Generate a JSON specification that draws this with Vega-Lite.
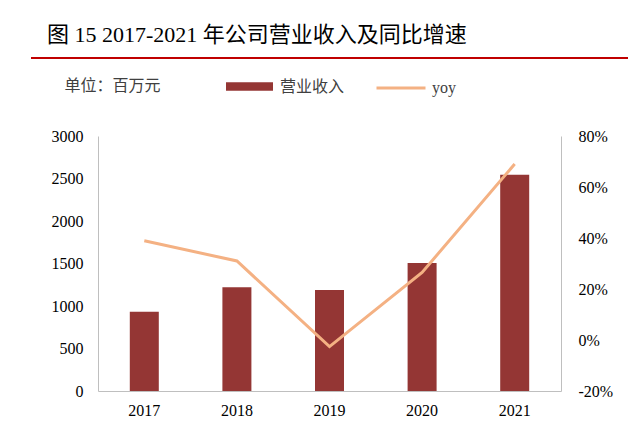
{
  "$schema": "https://vega.github.io/schema/vega-lite/v6.json",
  "background": "white",
  "padding": {"left": 31, "top": 23, "right": 0, "bottom": 0},
  "bounds": "flush",
  "center": true,
  "spacing": 77,
  "resolve": {"legend": {"color": "independent", "stroke": "independent"}},
  "config": {
    "view": {"stroke": null},
    "font": "Liberation Serif"
  },
  "datasets": {
    "revenue": [
      {"year": "2017", "revenue": 933, "yoy": 0.389},
      {"year": "2018", "revenue": 1220, "yoy": 0.31},
      {"year": "2019", "revenue": 1188, "yoy": -0.026},
      {"year": "2020", "revenue": 1506, "yoy": 0.265},
      {"year": "2021", "revenue": 2545, "yoy": 0.69}
    ]
  },
  "vconcat": [
    {
      "width": 595,
      "height": 0.01,
      "view": {"stroke": "#C00000", "strokeWidth": 2},
      "title": {
        "text": "图 15 2017-2021 年公司营业收入及同比增速",
        "anchor": "start",
        "frame": "group",
        "dx": 15,
        "offset": -6,
        "baseline": "alphabetic",
        "font": "Liberation Serif, Noto Sans CJK SC",
        "fontSize": 22,
        "fontWeight": "normal",
        "color": "#000000"
      },
      "data": {"values": []},
      "mark": "point",
      "encoding": {}
    },
    {
      "width": 463,
      "height": 255,
      "data": {"name": "revenue"},
      "encoding": {
        "x": {
          "field": "year",
          "type": "ordinal",
          "title": null,
          "axis": {
            "labelAngle": 0,
            "ticks": false,
            "domainColor": "#BFBFBF",
            "labelFont": "Liberation Serif",
            "labelFontSize": 16,
            "labelColor": "#000000",
            "labelPadding": 11
          }
        }
      },
      "layer": [
        {
          "mark": {"type": "bar", "size": 29},
          "encoding": {
            "y": {
              "field": "revenue",
              "type": "quantitative",
              "scale": {"domain": [0, 3000], "nice": false},
              "axis": {
                "orient": "left",
                "values": [0, 500, 1000, 1500, 2000, 2500, 3000],
                "format": "d",
                "grid": false,
                "ticks": false,
                "domainColor": "#BFBFBF",
                "labelFont": "Liberation Serif",
                "labelFontSize": 16,
                "labelColor": "#000000",
                "labelPadding": 15,
                "title": "单位：百万元",
                "titleAngle": 0,
                "titleAlign": "left",
                "titleBaseline": "middle",
                "titleX": -34,
                "titleY": -51,
                "titleFont": "Noto Sans CJK SC",
                "titleFontSize": 16,
                "titleFontWeight": "normal",
                "titleColor": "#404040"
              }
            },
            "color": {
              "datum": "营业收入",
              "scale": {"range": ["#943634"]},
              "legend": {
                "title": null,
                "orient": "none",
                "legendX": 127,
                "legendY": -74,
                "padding": 0,
                "symbolType": "M-1,-0.18H1V0.18H-1Z",
                "symbolSize": 2209,
                "symbolOpacity": 1,
                "labelFont": "Noto Sans CJK SC",
                "labelFontSize": 16,
                "labelColor": "#404040",
                "labelOffset": 6
              }
            }
          }
        },
        {
          "mark": {"type": "line", "strokeWidth": 3},
          "encoding": {
            "y": {
              "field": "yoy",
              "type": "quantitative",
              "scale": {"domain": [-0.2, 0.8], "nice": false, "zero": false},
              "axis": {
                "orient": "right",
                "values": [-0.2, 0, 0.2, 0.4, 0.6, 0.8],
                "labelExpr": "round(datum.value * 100) + '%'",
                "grid": false,
                "ticks": false,
                "domainColor": "#BFBFBF",
                "labelFont": "Liberation Serif",
                "labelFontSize": 16,
                "labelColor": "#000000",
                "labelPadding": 17,
                "title": null
              }
            },
            "stroke": {
              "datum": "yoy",
              "scale": {"range": ["#F4B183"]},
              "legend": {
                "title": null,
                "orient": "none",
                "legendX": 277,
                "legendY": -74,
                "padding": 0,
                "symbolType": "M-1,0H1",
                "symbolSize": 2401,
                "symbolStrokeWidth": 3,
                "symbolOpacity": 1,
                "labelFont": "Liberation Serif",
                "labelFontSize": 16,
                "labelColor": "#404040",
                "labelOffset": 5
              }
            }
          }
        }
      ],
      "resolve": {"scale": {"y": "independent"}}
    }
  ]
}
